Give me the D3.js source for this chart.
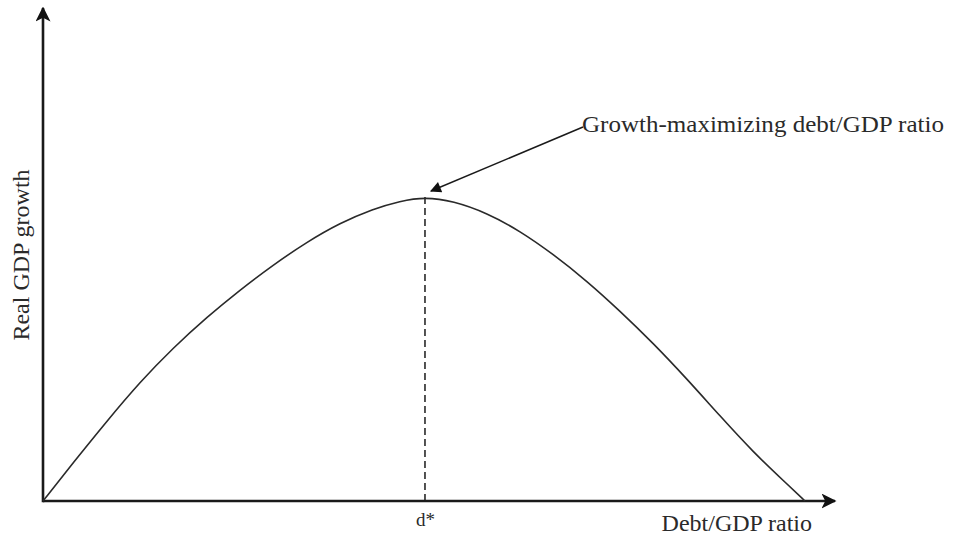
<!DOCTYPE html>
<html>
<head>
<meta charset="utf-8">
<script src="https://cdn.jsdelivr.net/npm/d3@7"></script>
<style>
  html, body { margin: 0; padding: 0; background: #fff; }
  svg { display: block; }
  text { font-family: "Liberation Serif", "DejaVu Serif", serif; fill: #2a2a2a; }
</style>
</head>
<body>
<svg id="chart" width="956" height="536"></svg>
<script>
// Debt/GDP ratio (horizontal units, 0-100) and real GDP growth (vertical units, 0-100)
const debtRatio = [0, 3.79, 8.08, 12.25, 16.41, 20.71, 24.87, 29.04, 33.33, 37.5, 41.67, 45.08, 48.23,
                   51.77, 56.06, 60.23, 64.39, 68.69, 72.85, 77.02, 81.31, 85.48, 89.65, 93.94, 96.21];
const growth    = [0, 7.71, 16.23, 24.14, 31.03, 37.32, 42.8, 47.87, 52.54, 56.39, 59.23, 60.85, 61.66,
                   60.85, 58.42, 54.77, 50.1, 44.62, 38.54, 32.05, 24.75, 17.24, 9.94, 3.45, 0];
const dStar = 48.23;
const dStarPeak = 61.66;
const tickValues = [dStar];
const tickLabels = ["d*"];
const xTitle = "Debt/GDP ratio";
const yTitle = "Real GDP growth";
const annotationText = "Growth-maximizing debt/GDP ratio";

const svg = d3.select("#chart");
const x = d3.scaleLinear().domain([0, 100]).range([43, 835]);
const y = d3.scaleLinear().domain([0, 100]).range([501, 8]);

const defs = svg.append("defs");
defs.append("marker").attr("id", "axisArrow")
  .attr("viewBox", "0 0 10 10").attr("refX", 9).attr("refY", 5)
  .attr("markerUnits", "userSpaceOnUse")
  .attr("markerWidth", 15).attr("markerHeight", 15)
  .attr("orient", "auto")
  .append("path").attr("d", "M0,0 L10,5 L0,10 L2.5,5 Z").attr("fill", "#111");
defs.append("marker").attr("id", "annArrow")
  .attr("viewBox", "0 0 10 10").attr("refX", 9).attr("refY", 5)
  .attr("markerUnits", "userSpaceOnUse")
  .attr("markerWidth", 13).attr("markerHeight", 11)
  .attr("orient", "auto")
  .append("path").attr("d", "M0,0 L10,5 L0,10 Z").attr("fill", "#111");

// Axes lines with arrowheads
svg.append("line")
  .attr("x1", x(0)).attr("y1", y(0)).attr("x2", x(100)).attr("y2", y(0))
  .attr("stroke", "#1a1a1a").attr("stroke-width", 2.6).attr("marker-end", "url(#axisArrow)");
svg.append("line")
  .attr("x1", x(0)).attr("y1", y(0) + 1.3).attr("x2", x(0)).attr("y2", y(100))
  .attr("stroke", "#1a1a1a").attr("stroke-width", 2.6).attr("marker-end", "url(#axisArrow)");

// Tick label d* via axis
const xAxis = d3.axisBottom(x).tickValues(tickValues)
  .tickFormat((d, i) => tickLabels[i]).tickSize(0).tickPadding(12);
const gx = svg.append("g").attr("transform", `translate(0,${y(0)})`).call(xAxis);
gx.select(".domain").remove();
gx.selectAll("text").attr("font-size", 19).attr("font-family", "Liberation Serif, serif").attr("fill", "#2a2a2a");

// Dashed line at d*
svg.append("line")
  .attr("x1", x(dStar)).attr("x2", x(dStar))
  .attr("y1", y(dStarPeak)).attr("y2", y(0))
  .attr("stroke", "#1a1a1a").attr("stroke-width", 1.5).attr("stroke-dasharray", "7,4");

// Curve
const pts = debtRatio.map((d, i) => [d, growth[i]]);
svg.append("path")
  .datum(pts)
  .attr("fill", "none").attr("stroke", "#2a2a2a").attr("stroke-width", 1.6)
  .attr("d", d3.line().x(d => x(d[0])).y(d => y(d[1])).curve(d3.curveBasis));

// Axis titles
svg.append("text").attr("x", 812).attr("y", 531).attr("text-anchor", "end")
  .attr("font-size", 24).text(xTitle);
svg.append("text").attr("transform", "translate(29,255) rotate(-90)")
  .attr("text-anchor", "middle").attr("font-size", 24).text(yTitle);

// Annotation
svg.append("text").attr("x", 582).attr("y", 132).attr("font-size", 24)
  .attr("textLength", 362).attr("lengthAdjust", "spacingAndGlyphs").text(annotationText);
svg.append("line")
  .attr("x1", 583).attr("y1", 127).attr("x2", x(dStar) + 6).attr("y2", y(dStarPeak) - 6)
  .attr("stroke", "#1a1a1a").attr("stroke-width", 1.5).attr("marker-end", "url(#annArrow)");
</script>
</body>
</html>
